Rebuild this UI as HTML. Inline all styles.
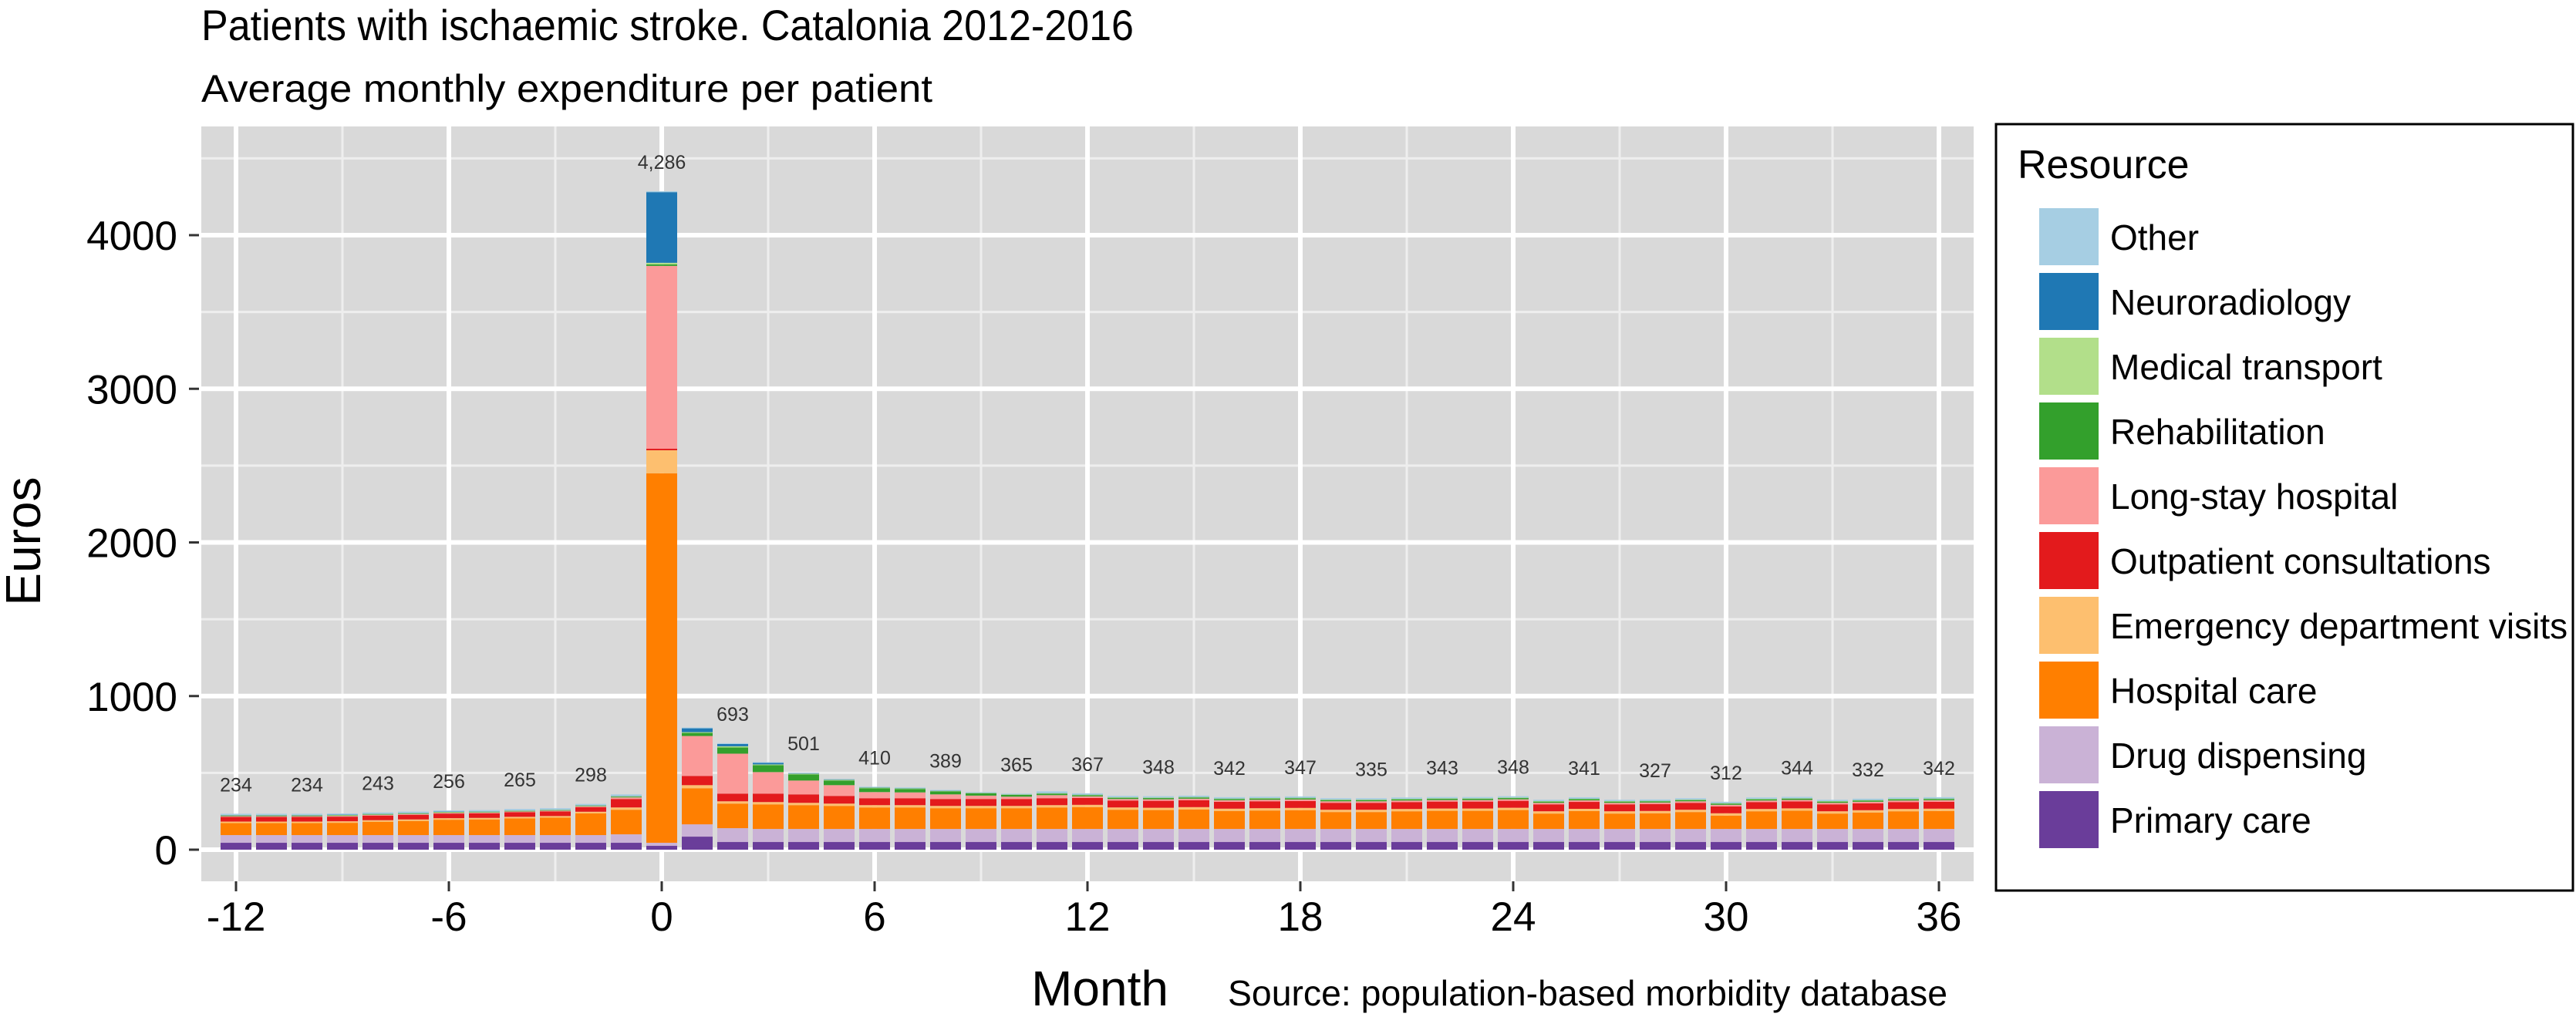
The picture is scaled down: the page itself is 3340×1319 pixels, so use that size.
<!DOCTYPE html>
<html><head><meta charset="utf-8"><style>
html,body{margin:0;padding:0;background:#fff;}
svg{display:block;font-family:"Liberation Sans",Arial,sans-serif;}
</style></head><body>
<svg id="chart" width="3340" height="1319" viewBox="0 0 3340 1319" xmlns="http://www.w3.org/2000/svg">
<text x="261" y="52" font-size="56" textLength="1209" lengthAdjust="spacingAndGlyphs" fill="#000">Patients with ischaemic stroke. Catalonia 2012-2016</text>
<text x="261" y="132" font-size="50" textLength="948" lengthAdjust="spacingAndGlyphs" fill="#000">Average monthly expenditure per patient</text>
<rect x="261" y="164" width="2298" height="979" fill="#d9d9d9"/>
<g id="grid"></g>
<g id="bars"></g>
<g id="labels"></g>
<g id="axes"></g>
<text transform="translate(52,702) rotate(-90)" text-anchor="middle" font-size="64" fill="#000">Euros</text>
<text x="1426" y="1304" text-anchor="middle" font-size="64" fill="#000">Month</text>
<text x="1592" y="1304" font-size="46" textLength="933" lengthAdjust="spacingAndGlyphs" fill="#000">Source: population-based morbidity database</text>
<g>
<rect x="2588" y="161" width="748" height="994" fill="#fff" stroke="#000" stroke-width="3"/>
<text x="2616" y="231" font-size="52" fill="#000">Resource</text>
<g id="legend-items"></g>
</g>
</svg>
<script>
const months = [-12,-11,-10,-9,-8,-7,-6,-5,-4,-3,-2,-1,0,1,2,3,4,5,6,7,8,9,10,11,12,13,14,15,16,17,18,19,20,21,22,23,24,25,26,27,28,29,30,31,32,33,34,35,36];
const primaryCare = [45,45,45,45,45,45,45,45,45,45,45,45,25,85,50,50,50,50,50,50,50,50,50,50,50,50,50,50,50,50,50,50,50,50,50,50,50,50,50,50,50,50,50,50,50,50,50,50,50];
const drugDispensing = [50,50,50,50,50,50,50,50,50,50,50,55,20,80,90,85,85,85,85,85,85,85,85,85,85,85,85,85,85,85,85,85,85,85,85,85,85,85,85,85,85,85,85,85,85,85,85,85,85];
const hospitalCare = [78,78,78,80,87,92,100,102,109,114,142,160,2405,235,160,160,155,150,140,140,135,135,135,140,142,125,123,127,117,120,122,110,110,115,118,118,123,100,116,100,102,110,87,115,119,100,107,115,117];
const emergencyVisits = [10,10,10,10,10,10,10,10,10,10,10,15,150,20,15,15,15,15,15,15,15,15,15,15,15,15,15,15,15,15,15,15,15,15,15,15,15,15,15,15,15,15,15,15,15,15,15,15,15];
const outpatient = [30,30,30,30,30,30,30,30,30,30,30,55,10,60,50,55,55,50,45,45,45,45,45,45,45,45,45,45,45,45,45,45,45,45,45,45,45,45,45,45,45,45,45,45,45,45,45,45,45];
const longStay = [5,5,5,5,5,5,5,5,5,5,5,10,1190,260,260,140,90,70,40,38,30,22,15,20,10,10,10,10,10,10,10,10,10,10,10,10,10,10,10,10,10,10,10,10,10,10,10,10,10];
const rehabilitation = [3,3,3,3,3,3,3,3,3,3,3,5,10,20,40,45,40,30,25,22,20,15,12,10,8,8,8,8,8,8,8,8,8,8,8,8,8,8,8,8,8,8,8,8,8,8,8,8,8];
const medicalTransport = [3,3,3,3,3,3,3,3,3,3,3,3,10,5,8,5,5,5,4,4,3,3,3,3,3,3,3,3,3,3,3,3,3,3,3,3,3,3,3,3,3,3,3,3,3,3,3,3,3];
const neuroradiology = [2,2,2,2,2,2,2,2,2,2,2,2,460,25,15,10,3,3,2,2,2,1,1,1,1,1,1,1,1,1,1,1,1,1,1,1,1,1,1,1,1,1,1,1,1,1,1,1,1];
const otherRes = [8,8,8,8,8,8,8,8,8,8,8,10,6,5,5,5,3,2,4,4,4,4,4,11,8,8,8,8,8,8,8,8,8,8,8,8,8,8,8,8,8,8,8,8,8,8,8,8,8];
const labelMonths = [-12,-10,-8,-6,-4,-2,0,2,4,6,8,10,12,14,16,18,20,22,24,26,28,30,32,34,36];
const labelTexts = ["234","234","243","256","265","298","4,286","693","501","410","389","365","367","348","342","347","335","343","348","341","327","312","344","332","342"];
const labelValues = [234,234,243,256,265,298,4286,693,501,410,389,365,367,348,342,347,335,343,348,341,327,312,344,332,342];
const yTicks = [0,1000,2000,3000,4000];
const xTicks = [-12,-6,0,6,12,18,24,30,36];

const seriesNames = ["Primary care","Drug dispensing","Hospital care","Emergency department visits","Outpatient consultations","Long-stay hospital","Rehabilitation","Medical transport","Neuroradiology","Other"];
const seriesData = [primaryCare,drugDispensing,hospitalCare,emergencyVisits,outpatient,longStay,rehabilitation,medicalTransport,neuroradiology,otherRes];
const seriesColors = ["#6a3d9a","#cab2d6","#ff7f00","#fdbf6f","#e31a1c","#fb9a99","#33a02c","#b2df8a","#1f78b4","#a6cee3"];

const NS = "http://www.w3.org/2000/svg";
const X0 = 858, MW = 46, Y0 = 1102, PPU = 0.19925;
const PL = 261, PR = 2559, PT = 164, PB = 1143;
function xs(m){ return X0 + m*MW; }
function ys(v){ return Y0 - v*PPU; }
function mk(tag, attrs, parent){ const e=document.createElementNS(NS,tag); for(const k in attrs) e.setAttribute(k,attrs[k]); parent.appendChild(e); return e; }

const grid = document.getElementById('grid');
for (let v=500; v<=4500; v+=1000){ const l=mk('line',{x1:PL,x2:PR,y1:ys(v),y2:ys(v),stroke:'#eeeeee','stroke-width':3},grid);

 }
for (let m=-9; m<=36; m+=6){ const l=mk('line',{x1:xs(m),x2:xs(m),y1:PT,y2:PB,stroke:'#eeeeee','stroke-width':3},grid);

 }
yTicks.forEach(v=>{ const l=mk('line',{x1:PL,x2:PR,y1:ys(v),y2:ys(v),stroke:'#ffffff','stroke-width':6},grid);

 });
xTicks.forEach(m=>{ const l=mk('line',{x1:xs(m),x2:xs(m),y1:PT,y2:PB,stroke:'#ffffff','stroke-width':6},grid);

 });

const bars = document.getElementById('bars');
const BW = 40;
months.forEach((m,i)=>{
  let acc = 0;
  seriesData.forEach((arr,s)=>{
    const v = arr[i];
    const r = mk('rect',{x:xs(m)-BW/2,y:ys(acc+v),width:BW,height:v*PPU,fill:seriesColors[s]},bars);
    
    
    acc += v;
  });
});

const labels = document.getElementById('labels');
labelMonths.forEach((m,i)=>{
  const t = mk('text',{x:xs(m),y:ys(labelValues[i])-38+9,'text-anchor':'middle','font-size':25,fill:'#333'},labels);
  t.textContent = labelTexts[i];
  
  
});

const axes = document.getElementById('axes');
yTicks.forEach(v=>{
  const tk = mk('line',{x1:245,x2:258,y1:ys(v),y2:ys(v),stroke:'#333','stroke-width':3},axes);
  
  
  const t = mk('text',{x:230,y:ys(v)+19,'text-anchor':'end','font-size':53,fill:'#000'},axes);
  t.textContent = String(v);
  
  
});
xTicks.forEach(m=>{
  const tk = mk('line',{x1:xs(m),x2:xs(m),y1:PB,y2:PB+13,stroke:'#333','stroke-width':3},axes);
  
  
  const t = mk('text',{x:xs(m),y:1207,'text-anchor':'middle','font-size':53,fill:'#000'},axes);
  t.textContent = String(m);
  
  
});

const leg = document.getElementById('legend-items');
for (let k=0;k<10;k++){
  const s = 9-k;
  const top = 270 + k*84;
  const r = mk('rect',{x:2644,y:top,width:77,height:74,fill:seriesColors[s]},leg);
  
  
  const t = mk('text',{x:2736,y:top+54,'font-size':46,fill:'#000'},leg);
  t.textContent = seriesNames[s];
  
  
}
</script>
</body></html>
